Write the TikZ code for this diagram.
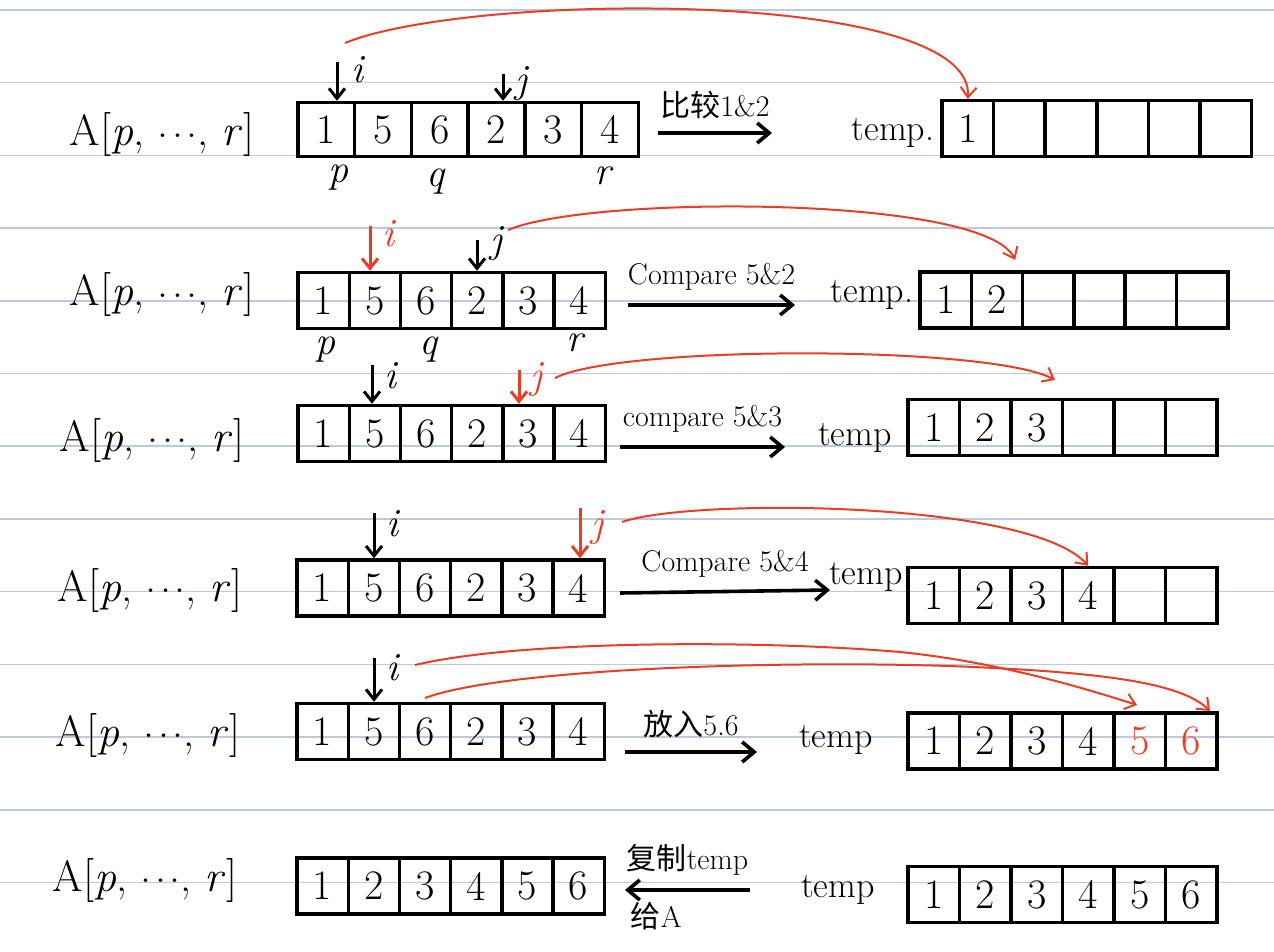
\documentclass[tikz,border=0pt]{standalone}
\usepackage{fontspec}
\newfontfamily\cjk{Noto Sans CJK SC}
\usetikzlibrary{arrows.meta}
\definecolor{hred}{RGB}{232,62,40}
\definecolor{rulecol}{RGB}{188,202,224}
\newcommand{\arr}{A[\textit{p},\ \raisebox{0.45ex}{.\kern0.08em.\kern0.08em.},\ \textit{r}]}

\begin{document}
\begin{tikzpicture}[x=0.5pt,y=-0.5pt]
  \tikzset{
    cell/.style={draw, rectangle, line width=1.7pt, minimum height=28pt, inner sep=0pt, font=\fontsize{21}{24}\selectfont},
    wcell/.style={cell, minimum width=28.35pt, minimum height=27pt},
    acell/.style={cell, minimum width=25.6pt},
    tcell/.style={cell, minimum width=25.75pt},
    lbl/.style={font=\fontsize{22}{26}\selectfont},
    tmp/.style={font=\fontsize{18}{22}\selectfont},
    note/.style={font=\fontsize{15}{18}\selectfont},
    idx/.style={font=\fontsize{20}{24}\selectfont\itshape},
    ptr/.style={draw, -{Straight Barb[length=5pt,width=8pt]}, line width=1.5pt},
    line/.style={draw, -{Straight Barb[length=6pt,width=10pt]}, line width=1.8pt},
    copyarc/.style={draw, -{Straight Barb[length=5pt,width=8pt]}, hred, line width=1pt},
    ruled/.style={rulecol, line width=0.8pt},
  }
  \useasboundingbox (0,0) rectangle (1274,952);
  % ruled paper
  \foreach \k in {0,...,12}
    \draw[ruled] (0,{10+72.7*\k}) -- (1274,{10+72.7*\k});

  % row 1
  \node[lbl] (A1) at (162,135) {\arr};
  \foreach \v [count=\k] in {1,5,6,2,3,4}
    \node[wcell] (a1-\k) at ({298+56.7*(\k-0.5)},129.5) {\v};
  \node[tmp] (tl1) at (893,133) {temp.};
  \foreach \v [count=\k] in {1,{},{},{},{},{}}
    \node[tcell] (t1-\k) at ({942+51.6*(\k-0.5)},128.5) {\v};
  \node[idx] (p1) at (338,178) {p};
  \node[idx] (q1) at (435,182) {q};
  \node[idx] (r1) at (603,176) {r};
  \coordinate (pi1) at (337,62);
  \path[ptr] (pi1) -- (pi1 |- a1-1.north);
  \node[idx] (i1) at (357,70) {i};
  \coordinate (pj1) at (503,74);
  \path[ptr] (pj1) -- (pj1 |- a1-4.north);
  \node[idx] (j1) at (521,84) {j};
  \coordinate (s1) at (658,133);
  \coordinate (e1) at (772,133);
  \path[line] (s1) -- node[note, above=3pt] (c1) {{\cjk 比较}1\&2} (e1);
  \coordinate (m1) at (345,43);
  \path[copyarc] (m1) .. controls (470,-8) and (975,-12) .. (t1-1.north);

  % row 2
  \node[lbl] (A2) at (162,295) {\arr};
  \foreach \v [count=\k] in {1,5,6,2,3,4}
    \node[acell] (a2-\k) at ({298+51.2*(\k-0.5)},300.5) {\v};
  \node[tmp] (tl2) at (872,295) {temp.};
  \foreach \v [count=\k] in {1,2,{},{},{},{}}
    \node[tcell] (t2-\k) at ({920+51.3*(\k-0.5)},300) {\v};
  \node[idx] (p2) at (325,350) {p};
  \node[idx] (q2) at (428,350) {q};
  \node[idx] (r2) at (575,343) {r};
  \coordinate (pi2) at (370,226);
  \path[ptr, hred] (pi2) -- (pi2 |- a2-2.north);
  \node[idx, hred] (i2) at (388,234) {i};
  \coordinate (pj2) at (477,240);
  \path[ptr] (pj2) -- (pj2 |- a2-4.north);
  \node[idx] (j2) at (496,244) {j};
  \coordinate (s2) at (628,305);
  \coordinate (e2) at (795,305);
  \path[line] (s2) -- node[note, above=3pt] (c2) {Compare 5\&2} (e2);
  \coordinate (m2) at (508,230);
  \coordinate (n2) at (1015,260);
  \path[copyarc] (m2) .. controls (590,195) and (985,195) .. (n2);

  % row 3
  \node[lbl] (A3) at (152,440) {\arr};
  \foreach \v [count=\k] in {1,5,6,2,3,4}
    \node[acell] (a3-\k) at ({298+51.2*(\k-0.5)},433.5) {\v};
  \node[tmp] (tl3) at (855,438) {temp};
  \foreach \v [count=\k] in {1,2,3,{},{},{}}
    \node[tcell] (t3-\k) at ({908+51.5*(\k-0.5)},427.5) {\v};
  \coordinate (pi3) at (372,365);
  \path[ptr] (pi3) -- (pi3 |- a3-2.north);
  \node[idx] (i3) at (390,376) {i};
  \coordinate (pj3) at (519,370);
  \path[ptr, hred] (pj3) -- (pj3 |- a3-5.north);
  \node[idx, hred] (j3) at (536,380) {j};
  \coordinate (s3) at (620,447);
  \coordinate (e3) at (785,447);
  \path[line] (s3) -- node[note, above=3pt] (c3) {compare 5\&3} (e3);
  \coordinate (m3) at (555,378);
  \coordinate (n3) at (1055,380);
  \path[copyarc] (m3) .. controls (620,345) and (990,345) .. (n3);

  % row 4
  \node[lbl] (A4) at (150,590) {\arr};
  \foreach \v [count=\k] in {1,5,6,2,3,4}
    \node[acell] (a4-\k) at ({297+51.2*(\k-0.5)},588) {\v};
  \node[tmp] (tl4) at (866,577) {temp};
  \foreach \v [count=\k] in {1,2,3,4,{},{}}
    \node[tcell] (t4-\k) at ({908+51.5*(\k-0.5)},595.5) {\v};
  \coordinate (pi4) at (374,513);
  \path[ptr] (pi4) -- (pi4 |- a4-2.north);
  \node[idx] (i4) at (392,524) {i};
  \coordinate (pj4) at (580,508);
  \path[ptr, hred] (pj4) -- (pj4 |- a4-6.north);
  \node[idx, hred] (j4) at (597,528) {j};
  \coordinate (s4) at (620,593);
  \coordinate (e4) at (830,590);
  \path[line] (s4) -- node[note, above=3pt] (c4) {Compare 5\&4} (e4);
  \coordinate (m4) at (622,522);
  \path[copyarc] (m4) .. controls (690,498) and (1030,500) .. (t4-4.north);

  % row 5
  \node[lbl] (A5) at (148,735) {\arr};
  \foreach \v [count=\k] in {1,5,6,2,3,4}
    \node[acell] (a5-\k) at ({297+51.2*(\k-0.5)},731.5) {\v};
  \node[tmp] (tl5) at (836,740) {temp};
  \foreach \v [count=\k] in {1,2,3,4,\textcolor{hred}{5},\textcolor{hred}{6}}
    \node[tcell] (t5-\k) at ({908+51.5*(\k-0.5)},741) {\v};
  \coordinate (pi5) at (374,658);
  \path[ptr] (pi5) -- (pi5 |- a5-2.north);
  \node[idx] (i5) at (392,668) {i};
  \coordinate (s5) at (625,752);
  \coordinate (e5) at (757,752);
  \path[line] (s5) -- node[note, above=3pt] (c5) {{\cjk 放入}5.6} (e5);
  \coordinate (m5) at (415,665);
  \coordinate (n5) at (1137,705);
  \path[copyarc] (m5) .. controls (520,640) and (760,640) .. (900,652)
    .. controls (1000,662) and (1090,690) .. (n5);
  \coordinate (m6) at (425,698);
  \coordinate (n6) at (1210,711);
  \path[copyarc] (m6) .. controls (500,670) and (760,660) .. (950,666)
    .. controls (1100,672) and (1180,682) .. (n6);

  % row 6
  \node[lbl] (A6) at (145,880) {\arr};
  \foreach \v [count=\k] in {1,2,3,4,5,6}
    \node[acell] (a6-\k) at ({297+51.2*(\k-0.5)},886) {\v};
  \node[tmp] (tl6) at (838,890) {temp};
  \foreach \v [count=\k] in {1,2,3,4,5,6}
    \node[tcell] (t6-\k) at ({908+51.5*(\k-0.5)},894.5) {\v};
  \coordinate (s6) at (750,890);
  \coordinate (e6) at (625,890);
  \path[line] (s6) -- node[note, above=3pt] (c6) {{\cjk 复制}temp}
    node[note, pos=0.75, below=2pt] (d6) {{\cjk 给}A} (e6);
\end{tikzpicture}
\end{document}
